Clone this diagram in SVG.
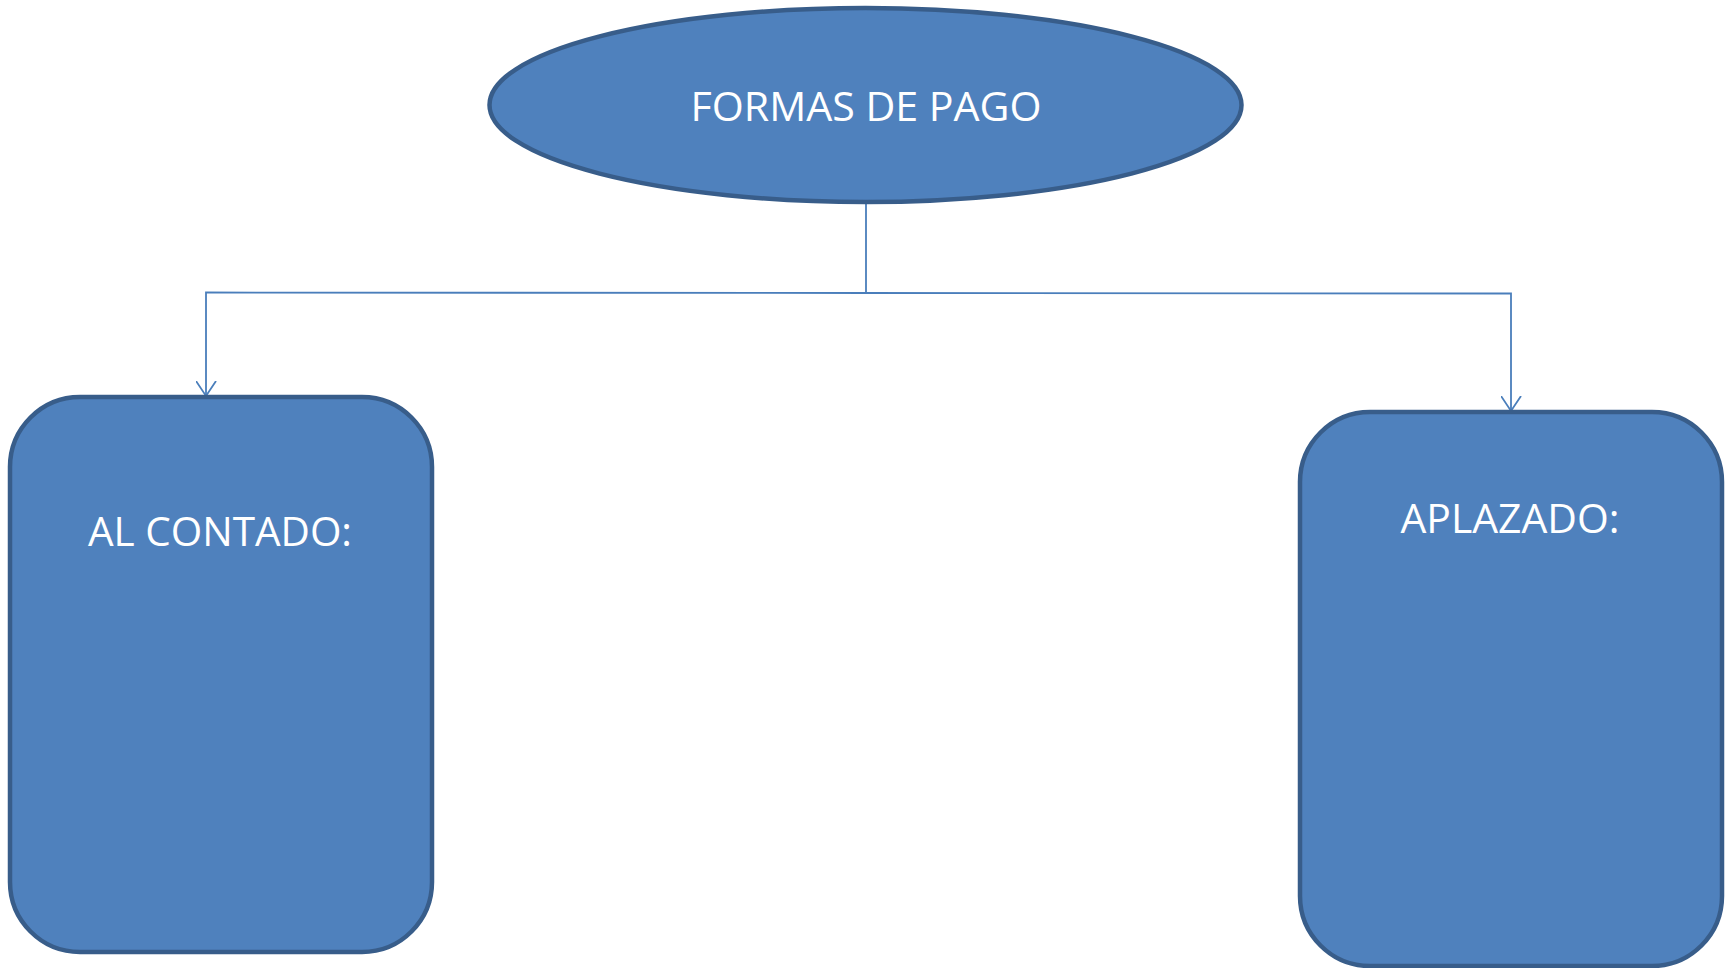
<svg xmlns="http://www.w3.org/2000/svg" width="1729" height="968" viewBox="0 0 1729 968">
<defs>
<style>
.shape{fill:#4F81BD;stroke:#385D8A;stroke-width:4.5}
.lbl{font-family:"Open Sans","Liberation Sans",Arial,sans-serif;font-size:41px;fill:#FFFFFF;text-anchor:middle}
.conn{fill:none;stroke:#4A7EBB;stroke-width:1.8}
</style>
<marker id="arr" markerWidth="22" markerHeight="18" refX="10" refY="15" orient="0" markerUnits="userSpaceOnUse" viewBox="0 0 22 18">
<path d="M0,0 L10,15 L20,0" fill="none" stroke="#4A7EBB" stroke-width="1.8"/>
</marker>
</defs>
<rect width="1729" height="968" fill="#FFFFFF"/>
<g id="connectors">
<path class="conn" d="M866,204 L866,293"/>
<path class="conn" d="M866,293 L206,292.5 L206,396" marker-end="url(#arr)"/>
<path class="conn" d="M866,293 L1511,293.5 L1511,411" marker-end="url(#arr)"/>
</g>
<g id="node-formas">
<ellipse class="shape" cx="865.5" cy="105" rx="376" ry="97"/>
<text class="lbl" x="866" y="121" textLength="351" lengthAdjust="spacingAndGlyphs">FORMAS DE PAGO</text>
</g>
<g id="node-contado">
<rect class="shape" x="10" y="397" width="422" height="555" rx="70" ry="70"/>
<text class="lbl" x="220" y="546" textLength="264" lengthAdjust="spacingAndGlyphs">AL CONTADO:</text>
</g>
<g id="node-aplazado">
<rect class="shape" x="1300" y="412" width="422" height="554" rx="70" ry="70"/>
<text class="lbl" x="1510" y="533" textLength="219" lengthAdjust="spacingAndGlyphs">APLAZADO:</text>
</g>
</svg>
